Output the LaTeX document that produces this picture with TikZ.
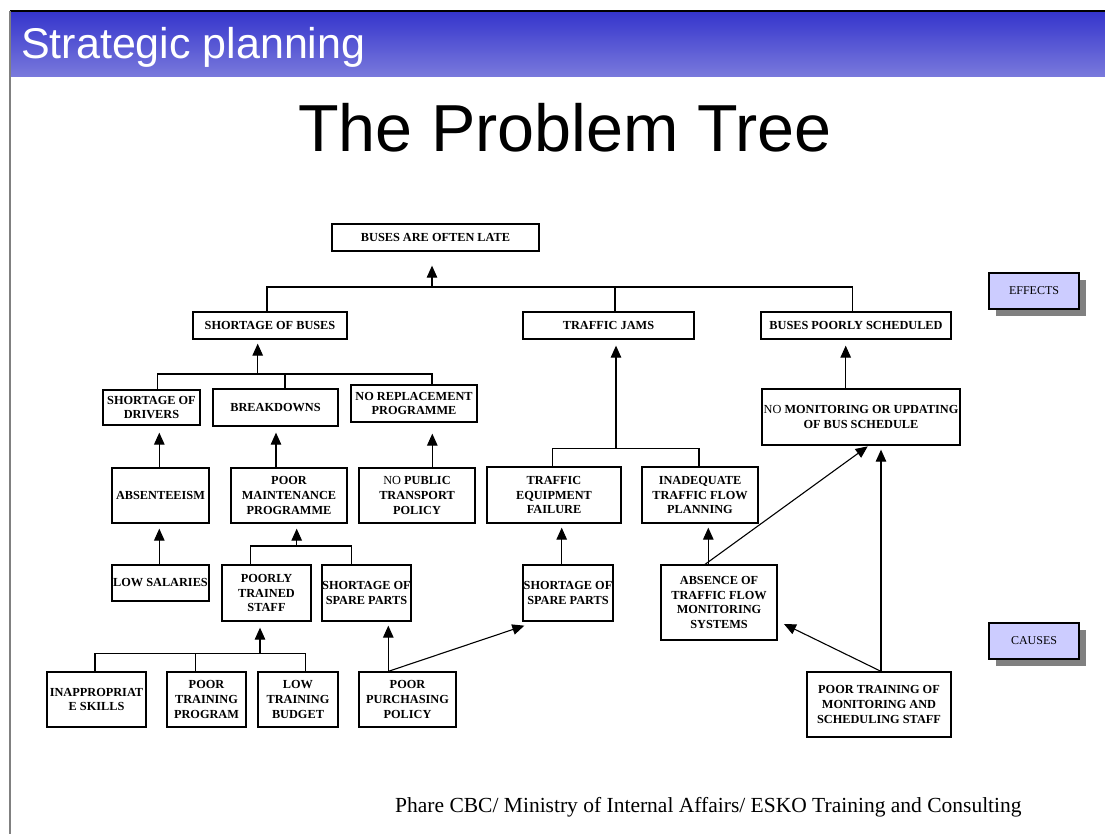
\documentclass[tikz,border=0pt]{standalone}
\usepackage{fontspec}
\setmainfont{Liberation Serif}
\newfontfamily\headsans{Liberation Sans}
\usetikzlibrary{arrows.meta,calc,shadows}
\definecolor{hdrtop}{RGB}{52,52,204}
\definecolor{hdrbot}{RGB}{122,122,220}
\definecolor{tagfill}{RGB}{204,204,255}
\definecolor{shadowgrey}{RGB}{128,128,128}
\begin{document}
\begin{tikzpicture}[x=1pt,y=-1pt,
  box/.style={draw, line width=1.3pt, align=center, inner sep=0pt,
    font=\fontsize{12.3}{14.7}\selectfont\bfseries},
  tag/.style={draw, line width=1.3pt, fill=tagfill, inner sep=0pt,
    minimum width=90, minimum height=36, font=\fontsize{12}{14}\selectfont,
    drop shadow={shadow xshift=7pt, shadow yshift=-7pt, fill=shadowgrey, opacity=1}},
  link/.style={line width=1.1pt},
  arr/.style={line width=1.1pt, -{Triangle[width=10.5pt,length=12pt]}},
]
\useasboundingbox (0,0) rectangle (1105,834);
\fill[white] (0,0) rectangle (1105,834);

% slide header
\shade[top color=hdrtop, bottom color=hdrbot] (10,11) rectangle (1105,77);
\draw[line width=1.5pt] (10,11) -- (1105,11);
\draw[shadowgrey, line width=2pt] (10,11) -- (10,834);
\node[anchor=base west, text=white, inner sep=0pt,
  font=\headsans\fontsize{43}{48}\selectfont] (hdr) at (21,59) {Strategic planning};
\node[anchor=base, inner sep=0pt,
  font=\headsans\fontsize{66.5}{72}\selectfont] (title) at (565,152) {The Problem Tree};
\node[anchor=base west, inner sep=0pt,
  font=\fontsize{21.5}{24}\selectfont] (footer) at (395,812)
  {Phare CBC/ Ministry of Internal Affairs/ ESKO Training and Consulting};

% problem and effects
\node[box, minimum width=207, minimum height=27] (late) at (435.5,237.5) {BUSES ARE OFTEN LATE};
\node[box, minimum width=154, minimum height=27] (sbuses) at (270,325.5) {SHORTAGE OF BUSES};
\node[box, minimum width=171, minimum height=27] (jams) at (608.5,325.5) {TRAFFIC JAMS};
\node[box, minimum width=190, minimum height=27] (sched) at (856,325.5) {BUSES POORLY SCHEDULED};

% causes
\node[box, minimum width=97, minimum height=35] (drivers) at (151.5,407.5) {SHORTAGE OF\\DRIVERS};
\node[box, minimum width=125, minimum height=37] (breakdowns) at (275.5,407.5) {BREAKDOWNS};
\node[box, minimum width=126, minimum height=37] (noreplace) at (414,403.5) {NO REPLACEMENT\\PROGRAMME};
\node[box, minimum width=97, minimum height=55] (absent) at (160.5,495.5) {ABSENTEEISM};
\node[box, minimum width=116, minimum height=55] (maint) at (289,495.5) {POOR\\MAINTENANCE\\PROGRAMME};
\node[box, minimum width=116, minimum height=55] (nopolicy) at (417,495.5) {{\mdseries NO} PUBLIC\\TRANSPORT\\POLICY};
\node[box, minimum width=134, minimum height=56] (equip) at (554,495) {TRAFFIC\\EQUIPMENT\\FAILURE};
\node[box, minimum width=116, minimum height=56] (flowplan) at (700,495) {INADEQUATE\\TRAFFIC FLOW\\PLANNING};
\node[box, minimum width=198, minimum height=56] (nomonitor) at (861,417) {{\mdseries NO} MONITORING OR UPDATING\\OF BUS SCHEDULE};
\node[box, minimum width=97, minimum height=36] (lowsal) at (160.5,583) {LOW SALARIES};
\node[box, minimum width=89, minimum height=56] (trained) at (266.5,593) {POORLY\\TRAINED\\STAFF};
\node[box, minimum width=89, minimum height=56] (spareL) at (366.5,593) {SHORTAGE OF\\SPARE PARTS};
\node[box, minimum width=90, minimum height=56] (spareR) at (568,593) {SHORTAGE OF\\SPARE PARTS};
\node[box, minimum width=116, minimum height=75] (absence) at (719,602.5) {ABSENCE OF\\TRAFFIC FLOW\\MONITORING\\SYSTEMS};
\node[box, minimum width=99, minimum height=55] (inappr) at (96.5,699.5) {INAPPROPRIAT\\E SKILLS};
\node[box, minimum width=79, minimum height=55] (trprog) at (206.5,699.5) {POOR\\TRAINING\\PROGRAM};
\node[box, minimum width=80, minimum height=55] (trbudget) at (298,699.5) {LOW\\TRAINING\\BUDGET};
\node[box, minimum width=97, minimum height=55] (purchasing) at (407.5,699.5) {POOR\\PURCHASING\\POLICY};
\node[box, minimum width=144, minimum height=65] (poortrain) at (879,704.5) {POOR TRAINING OF\\MONITORING AND\\SCHEDULING STAFF};

% side labels
\node[tag] (effects) at (1034,291) {EFFECTS};
\node[tag] (causes) at (1034,641) {CAUSES};

% junctions of the brackets
\coordinate (jTop) at (432,287);
\coordinate (jB) at (257.7,374);
\coordinate (jM) at (296.7,546);
\coordinate (jT) at (260,653.3);
\coordinate (jJ) at (616,448.7);

% connector end points on the boxes
\coordinate (sbN) at ($(sbuses.north)+(-3,0)$);
\coordinate (jaN) at ($(jams.north)+(6.5,0)$);
\coordinate (scN) at ($(sched.north)+(-3.3,0)$);
\coordinate (drN) at ($(drivers.north)+(6.2,0)$);
\coordinate (bkN) at ($(breakdowns.north)+(9.5,0)$);
\coordinate (nrN) at ($(noreplace.north)+(18,0)$);
\coordinate (abN) at ($(absent.north)+(-1.2,0)$);
\coordinate (maN) at ($(maint.north)+(-13,0)$);
\coordinate (npN) at ($(nopolicy.north)+(15.3,0)$);
\coordinate (lsN) at ($(lowsal.north)+(-1.2,0)$);
\coordinate (trN) at ($(trained.north)+(-15.8,0)$);
\coordinate (slN) at ($(spareL.north)+(-15.2,0)$);
\coordinate (iaN) at ($(inappr.north)+(-1.5,0)$);
\coordinate (tpN) at ($(trprog.north)+(-10.8,0)$);
\coordinate (tbN) at ($(trbudget.north)+(7.7,0)$);
\coordinate (ppN) at ($(purchasing.north)+(-19.2,0)$);
\coordinate (srN) at ($(spareR.north)+(-6.3,0)$);
\coordinate (eqN) at ($(equip.north)+(-1.3,0)$);
\coordinate (fpN) at ($(flowplan.north)+(-1,0)$);
\coordinate (asN) at ($(absence.north)+(-10.7,0)$);
\coordinate (asD) at ($(absence.north)+(-14,0)$);
\coordinate (nmN) at ($(nomonitor.north)+(-15.3,0)$);
\coordinate (ptN) at ($(poortrain.north)+(2,0)$);

% top level
\draw[link] (sbN) |- (jTop) -| (scN);
\draw[link] (jaN) -- (jaN |- jTop);
\draw[arr, shorten >=14pt] (jTop) -- (jTop |- late.south);

% shortage of buses
\draw[link] (drN) |- (nrN |- jB) -- (nrN);
\draw[link] (bkN) -- (bkN |- jB);
\draw[arr, shorten >=4pt] (jB) -- (jB |- sbuses.south);

\draw[arr, shorten >=7pt] (abN) -- (abN |- drivers.south);
\draw[arr, shorten >=6pt] (maN) -- (maN |- breakdowns.south);
\draw[arr, shorten >=11pt] (npN) -- (npN |- noreplace.south);

% poor maintenance
\draw[link] (trN) |- (slN |- jM) -- (slN);
\draw[arr, shorten >=5pt] (jM) -- (jM |- maint.south);
\draw[arr, shorten >=5pt] (lsN) -- (lsN |- absent.south);

% poorly trained staff
\draw[link] (iaN) |- (tbN |- jT) -- (tbN);
\draw[link] (tpN) -- (tpN |- jT);
\draw[arr, shorten >=6pt] (jT) -- (jT |- trained.south);

% purchasing policy
\draw[arr, shorten >=4pt] (ppN) -- (ppN |- spareL.south);
\draw[arr] (ppN) -- ($(spareR.south west)+(2,4)$);

% traffic jams
\draw[arr, shorten >=4pt] (srN) -- (srN |- equip.south);
\draw[link] (eqN) |- (fpN |- jJ) -- (fpN);
\draw[arr, shorten >=6pt] (jJ) -- (jJ |- jams.south);
\draw[arr, shorten >=4pt] (asN) -- (asN |- flowplan.south);
\draw[arr] (asD) -- ($(nomonitor.south)+(6.7,0.7)$);

% scheduling
\draw[arr, shorten >=6pt] (nmN) -- (nmN |- sched.south);
\draw[arr, shorten >=4pt] (ptN) -- (ptN |- nomonitor.south);
\draw[arr] (ptN) -- ($(absence.east)+(6.3,21.5)$);
\end{tikzpicture}
\end{document}
